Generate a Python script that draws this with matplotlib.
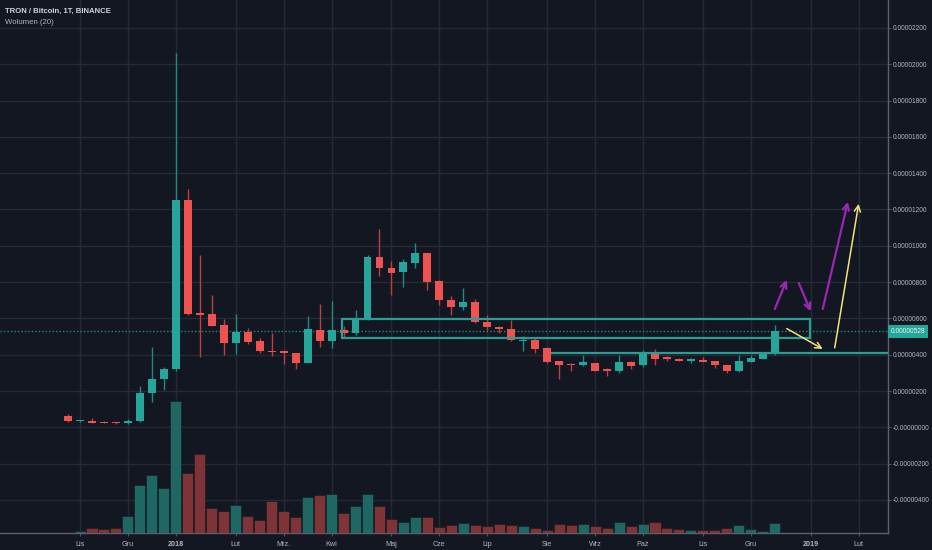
import matplotlib
matplotlib.use("Agg")
import matplotlib.pyplot as plt
from matplotlib.patches import Rectangle
import matplotlib.transforms as mtransforms

# ---------------- data (prices in satoshi = 1e-8 BTC, weekly candles) ----------------
opens = [60, 33, 37, 30, 25, 22, 33, 189, 268, 322, 1254, 628, 626, 562, 467, 527, 476, 421, 419, 410,
         355, 538, 474, 537, 520, 593, 941, 877, 855, 905, 958, 808, 703, 661, 688, 581, 553, 542, 476, 480,
         438, 363, 350, 342, 355, 319, 309, 359, 341, 416, 385, 377, 368, 370, 363, 341, 309, 361, 379, 405]
highs = [75, 38, 49, 35, 28, 48, 227, 441, 331, 2062, 1313, 950, 731, 595, 626, 549, 493, 522, 428, 412,
         615, 681, 698, 560, 648, 950, 1092, 918, 929, 1018, 962, 810, 721, 767, 707, 621, 557, 593, 505, 493,
         440, 365, 352, 401, 357, 328, 396, 368, 425, 434, 392, 380, 383, 388, 366, 343, 396, 401, 412, 562]
lows = [30, 31, 26, 24, 20, 20, 29, 141, 205, 313, 617, 386, 558, 397, 403, 460, 407, 392, 348, 319,
        353, 441, 438, 493, 511, 590, 831, 731, 771, 875, 754, 676, 617, 645, 575, 538, 520, 473, 419, 410,
        357, 264, 309, 340, 309, 282, 300, 319, 333, 341, 364, 366, 352, 358, 328, 297, 307, 358, 377, 401]
closes = [33, 36, 26, 25, 22, 35, 191, 269, 322, 1254, 626, 620, 560, 467, 527, 472, 419, 414, 410, 355,
          542, 474, 538, 518, 597, 941, 875, 850, 910, 960, 800, 699, 661, 688, 579, 551, 544, 480, 483, 432,
          359, 346, 342, 359, 313, 309, 359, 337, 416, 377, 374, 368, 374, 361, 341, 309, 366, 383, 410, 528]
volumes = [1.0, 1.7, 4.7, 4.0, 5.3, 17.0, 47.7, 58.0, 45.3, 132.3, 60.0, 79.0, 25.0, 22.0, 27.7, 17.0, 13.0, 32.0, 22.3, 16.3,
           36.0, 38.0, 39.0, 20.3, 26.7, 39.3, 26.7, 13.7, 11.0, 16.3, 16.3, 6.3, 8.0, 10.0, 8.0, 6.7, 9.3, 8.0, 7.3, 4.7,
           3.3, 9.0, 8.0, 8.7, 6.7, 5.3, 10.7, 7.0, 9.0, 11.0, 5.0, 3.7, 3.0, 3.0, 3.0, 5.0, 8.3, 4.3, 2.3, 9.7]

month_pos = [1, 5, 9, 14, 18, 22, 27, 31, 35, 40, 44, 48, 53, 57, 62, 66]
month_labels = ["Lis", "Gru", "2018", "Lut", "Mrz.", "Kwi", "Maj", "Cze", "Lip", "Sie", "Wrz", "Paź",
                "Lis", "Gru", "2019", "Lut"]
price_ticks = [-400, -200, 0, 200, 400, 600, 800, 1000, 1200, 1400, 1600, 1800, 2000, 2200]
price_labels = ["-0.00000400", "-0.00000200", "-0.00000000", "0.00000200", "0.00000400", "0.00000600",
                "0.00000800", "0.00001000", "0.00001200", "0.00001400", "0.00001600", "0.00001800",
                "0.00002000", "0.00002200"]
last_price = 528
last_label = "0.00000528"

# annotations (drawing tools)
box_x = [22.9, 61.9]
box_y = [492, 595]
support_level = 408
support_start = 40.3
purple_arrows = [((59.0, 652), (60.0, 813)), ((61.0, 795), (62.0, 639)), ((63.0, 652), (65.1, 1243))]
yellow_arrows = [((60.0, 544), (63.0, 432)), ((64.0, 438), (66.0, 1231))]

# ---------------- style ----------------
BG = "#131722"
GRID = "#262a35"
UP = "#26a69a"
DOWN = "#ef5350"
UP_VOL = "#1f6763"
DOWN_VOL = "#7e3437"
TXT = "#b2b5be"
FONT = "Liberation Sans"

fig = plt.figure(figsize=(9.32, 5.5), dpi=100, facecolor=BG)
rect = [0, 17 / 550, 888 / 932, 533 / 550]
ax = fig.add_axes(rect)
ax.set_facecolor(BG)
axv = ax.twinx()   # volume pane overlay

ax.set_xlim(-5.68, 68.45)
ax.set_ylim(-582, 2354)

# ticks & grid
ax.set_xticks(month_pos)
ax.set_xticklabels(month_labels)
ax.set_yticks(price_ticks)
ax.set_yticklabels(price_labels)
ax.yaxis.set_ticks_position("right")
ax.grid(True, color=GRID, lw=1.0)
ax.set_axisbelow(True)
ax.tick_params(axis="y", which="both", left=False, labelleft=False, right=True, labelright=True,
               colors="#50535e", labelcolor=TXT, labelsize=4.8, length=2.5, width=0.8, pad=0.8)
ax.tick_params(axis="x", colors="#50535e", labelcolor=TXT, labelsize=5.2, length=2.5, width=0.8, pad=3)
for lbl in ax.get_xticklabels() + ax.get_yticklabels():
    lbl.set_fontfamily(FONT)
for lbl in ax.get_xticklabels():
    if lbl.get_text() in ("2018", "2019"):
        lbl.set_fontweight("bold")
for s in ("top", "left"):
    ax.spines[s].set_visible(False)
for s in ("right", "bottom"):
    ax.spines[s].set_color("#5d606b")
    ax.spines[s].set_linewidth(1.0)

# candles
bw = 0.66
for i, (o, h, l, c) in enumerate(zip(opens, highs, lows, closes)):
    up = c >= o
    col = UP if up else DOWN
    wick = "#1f8a80" if up else "#b8403e"
    ax.vlines(i, l, h, color=wick, lw=1.0, zorder=2)
    lo = min(o, c)
    ht = max(abs(c - o), 5.5)
    ax.add_patch(Rectangle((i - bw / 2, lo), bw, ht, facecolor=col, edgecolor="none", zorder=3))

# price line
ax.axhline(last_price, color=UP, lw=1.0, ls=(0, (1, 1.5)), alpha=0.8, zorder=1.5)

# box
ax.add_patch(Rectangle((box_x[0], box_y[0]), box_x[1] - box_x[0], box_y[1] - box_y[0],
                       facecolor="none", edgecolor="#2a9d95", lw=1.6, zorder=4))
# support line
ax.plot([support_start, 68.45], [support_level, support_level], color="#2a9d95", lw=1.6, zorder=4,
        solid_capstyle="butt")

for (s, e) in purple_arrows:
    ax.annotate("", xy=e, xytext=s,
                arrowprops=dict(arrowstyle="->", color="#9c27b0", lw=1.6, mutation_scale=11,
                                shrinkA=0, shrinkB=0), zorder=5)
for (s, e) in yellow_arrows:
    ax.annotate("", xy=e, xytext=s,
                arrowprops=dict(arrowstyle="->", color="#f5e27c", lw=1.1, mutation_scale=11,
                                shrinkA=0, shrinkB=0), zorder=5)

# current price label
trans = mtransforms.blended_transform_factory(ax.transAxes, ax.transData)
ax.text(1.003, last_price, last_label, transform=trans, ha="left", va="center", fontsize=4.8,
        fontfamily=FONT, color="#e8f5f3", clip_on=False, zorder=10,
        bbox=dict(boxstyle="square,pad=0.45", facecolor=UP, edgecolor="none"))

# volume bars
axv.set_ylim(0, max(volumes) / 0.248)
axv.patch.set_visible(False)
axv.yaxis.set_visible(False)
axv.xaxis.set_visible(False)
for s in axv.spines.values():
    s.set_visible(False)
vcols = [UP_VOL if c >= o else DOWN_VOL for o, c in zip(opens, closes)]
axv.bar(range(len(volumes)), volumes, width=0.92, color=vcols, edgecolor="#14181f", linewidth=0.4)
axv.set_xlim(-5.68, 68.45)

# header
fig.text(5 / 932, 1 - 11 / 550, "TRON / Bitcoin, 1T, BINANCE", color="#d1d4dc", fontsize=5.6,
         fontfamily=FONT, fontweight="bold", va="center", ha="left")
fig.text(5 / 932, 1 - 23 / 550, "Wolumen (20)", color=TXT, fontsize=5.6, fontfamily=FONT,
         va="center", ha="left")

fig.savefig("out.png", dpi=100, facecolor=BG)
